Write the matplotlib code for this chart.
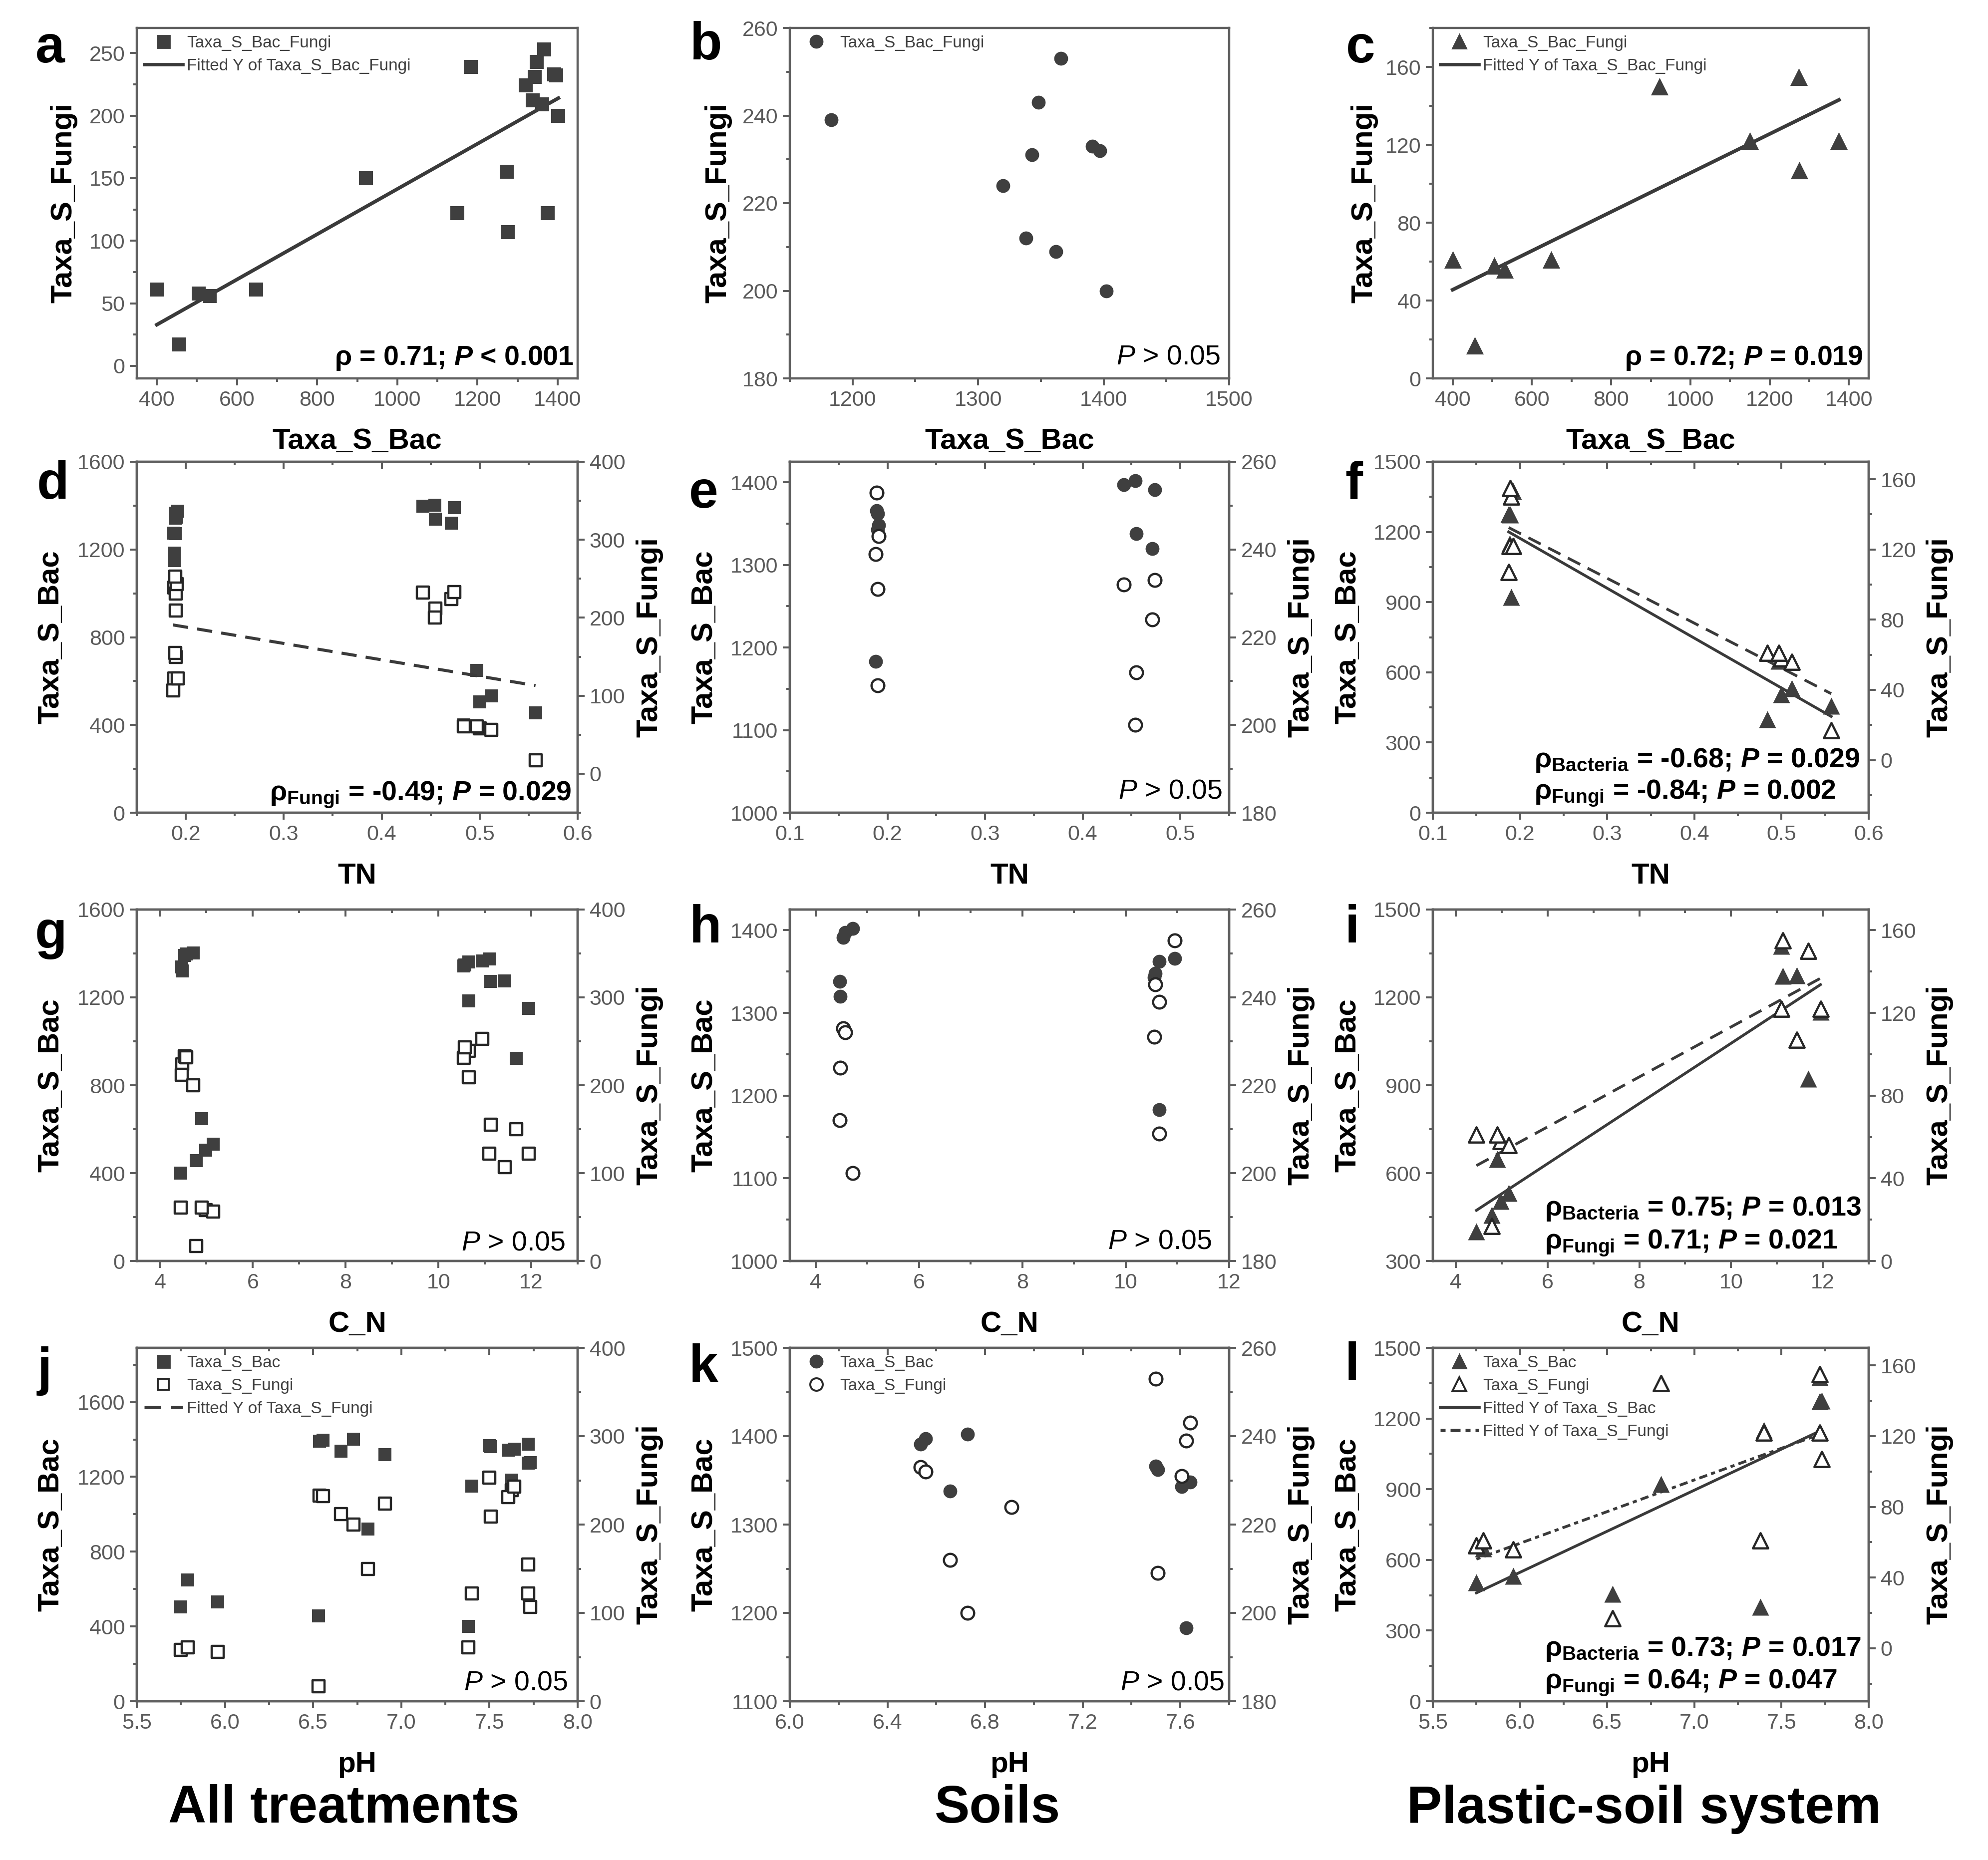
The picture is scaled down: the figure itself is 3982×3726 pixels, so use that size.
'''scatter panels: bacterial vs fungal richness against soil properties'''
import numpy as np
import matplotlib.pyplot as plt
from matplotlib.lines import Line2D
from matplotlib.ticker import MultipleLocator, FormatStrFormatter

plt.rcParams['font.family'] = ['Liberation Sans', 'DejaVu Sans']
plt.rcParams['mathtext.fontset'] = 'custom'
plt.rcParams['mathtext.rm'] = 'Liberation Sans'
plt.rcParams['mathtext.it'] = 'Liberation Sans:italic'
plt.rcParams['mathtext.bf'] = 'Liberation Sans:bold'
plt.rcParams['mathtext.bfit'] = 'Liberation Sans:italic:bold'

# soil samples
soil_bac = [1183, 1320, 1343, 1338, 1348, 1362, 1366, 1391, 1397, 1402]
soil_fungi = [239, 224, 231, 212, 243, 209, 253, 233, 232, 200]
soil_tn = [0.188, 0.471, 0.190, 0.455, 0.191, 0.190, 0.189, 0.474, 0.442, 0.454]
soil_cn = [10.65, 4.48, 10.55, 4.47, 10.57, 10.65, 10.95, 4.53, 4.57, 4.72]
soil_ph = [7.625, 6.908, 7.606, 6.657, 7.640, 7.508, 7.500, 6.536, 6.557, 6.728]

# plastic-soil samples
plastic_bac = [400, 456, 505, 532, 648, 922, 1150, 1273, 1275, 1375]
plastic_fungi = [61, 17, 58, 56, 61, 150, 122, 155, 107, 122]
plastic_tn = [0.484, 0.557, 0.500, 0.512, 0.497, 0.190, 0.188, 0.189, 0.187, 0.192]
plastic_cn = [4.45, 4.78, 4.98, 5.15, 4.90, 11.68, 11.95, 11.13, 11.43, 11.10]
plastic_ph = [7.38, 6.53, 5.75, 5.96, 5.79, 6.81, 7.40, 7.72, 7.73, 7.72]

# all treatments = both groups together
all_bac = soil_bac + plastic_bac
all_fungi = soil_fungi + plastic_fungi
all_tn = soil_tn + plastic_tn
all_cn = soil_cn + plastic_cn
all_ph = soil_ph + plastic_ph

W, H = 3982, 3726
DPI = 200
DARK = '#3f3f3f'
EDGE = '#262626'
LINE = '#3a3a3a'
TICK = '#5a5a5a'

fig = plt.figure(figsize=(W / DPI, H / DPI), dpi=DPI)

cols = [(274, 1157), (1582, 2462), (2870, 3743)]
rows = [(56, 758), (925, 1628), (1822, 2526), (2700, 3408)]


def make_ax(r, c):
    x0, x1 = cols[c]
    y0, y1 = rows[r]
    return fig.add_axes([x0 / W, 1 - y1 / H, (x1 - x0) / W, (y1 - y0) / H])


def style(ax, lim, major, which='x', fmt=None):
    axis = ax.xaxis if which == 'x' else ax.yaxis
    if which == 'x':
        ax.set_xlim(lim)
    else:
        ax.set_ylim(lim)
    axis.set_major_locator(MultipleLocator(major))
    axis.set_minor_locator(MultipleLocator(major / 2))
    if fmt:
        axis.set_major_formatter(FormatStrFormatter(fmt))
    ax.tick_params(which='both', direction='out', colors=TICK, labelsize=15.5, width=1.4)
    ax.tick_params(which='major', length=5)
    ax.tick_params(which='minor', length=2.5)
    for sp in ax.spines.values():
        sp.set_color('#606060')
        sp.set_linewidth(1.6)


def top_ticks(ax, major):
    sec = ax.secondary_xaxis('top')
    sec.xaxis.set_major_locator(MultipleLocator(major))
    sec.xaxis.set_minor_locator(MultipleLocator(major / 2))
    sec.tick_params(which='both', direction='in', labeltop=False, colors=TICK, width=1.4)
    sec.tick_params(which='major', length=5)
    sec.tick_params(which='minor', length=2.5)


def fit_line(ax, x, y, **kw):
    k, b = np.polyfit(x, y, 1)
    xs = np.array([min(x), max(x)])
    ax.plot(xs, k * xs + b, color=LINE, **kw)


def filled(ax, x, y, m, s):
    ax.scatter(x, y, marker=m, s=s, c=DARK, linewidths=0, zorder=3)


def hollow(ax, x, y, m, s):
    ax.scatter(x, y, marker=m, s=s, facecolors='white', edgecolors=EDGE, linewidths=1.6, zorder=4)


def note(ax, x, y, txt, ha='right', bold=True):
    ax.text(x, y, txt, transform=ax.transAxes, ha=ha, va='center', fontsize=20,
            fontweight='bold' if bold else 'normal', zorder=6)


def labels(ax, xl, yl, ylx):
    ax.set_xlabel(xl, fontsize=21, fontweight='bold', va='center')
    ax.xaxis.set_label_coords(0.5, -0.18)
    ax.set_ylabel(yl, fontsize=21.5, fontweight='bold', va='center')
    ax.yaxis.set_label_coords(ylx, 0.5)


def right_label(ax2):
    ax2.set_ylabel('Taxa_S_Fungi', fontsize=21.5, fontweight='bold', va='center')
    ax2.yaxis.set_label_coords(1.163, 0.5)


def legend(ax, handles, names):
    leg = ax.legend(handles, names, loc='upper left', frameon=False, fontsize=12,
                    handlelength=2.3, handletextpad=0.25, labelspacing=0.45,
                    borderaxespad=0.25, borderpad=0.2)
    for t in leg.get_texts():
        t.set_color('#404040')
    leg.set_zorder(10)


def mk(m, fill, ms):
    if fill:
        return Line2D([], [], marker=m, ls='none', color=DARK, ms=ms)
    return Line2D([], [], marker=m, ls='none', markerfacecolor='white',
                  markeredgecolor=EDGE, markeredgewidth=1.4, ms=ms)


def ln(ls):
    return Line2D([], [], color=LINE, lw=2.4, ls=ls)


RHO_A = 'ρ = 0.71; $\\mathbfit{P}$ < 0.001'
RHO_C = 'ρ = 0.72; $\\mathbfit{P}$ = 0.019'
NS = '$\\mathit{P}$ > 0.05'

# ---- row 1: fungi vs bacteria
ax = make_ax(0, 0)
filled(ax, all_bac, all_fungi, 's', 100)
fit_line(ax, all_bac, all_fungi, lw=2.6)
style(ax, (350, 1450), 200, 'x')
style(ax, (-10, 270), 50, 'y')
labels(ax, 'Taxa_S_Bac', 'Taxa_S_Fungi', -0.166)
legend(ax, [mk('s', True, 9), ln('-')], ['Taxa_S_Bac_Fungi', 'Fitted Y of Taxa_S_Bac_Fungi'])
note(ax, 0.991, 0.057, RHO_A)

ax = make_ax(0, 1)
filled(ax, soil_bac, soil_fungi, 'o', 100)
style(ax, (1150, 1500), 100, 'x')
style(ax, (180, 260), 20, 'y')
labels(ax, 'Taxa_S_Bac', 'Taxa_S_Fungi', -0.163)
legend(ax, [mk('o', True, 9)], ['Taxa_S_Bac_Fungi'])
note(ax, 0.98, 0.06, NS, bold=False)

ax = make_ax(0, 2)
filled(ax, plastic_bac, plastic_fungi, '^', 160)
fit_line(ax, plastic_bac, plastic_fungi, lw=2.6)
style(ax, (350, 1450), 200, 'x')
style(ax, (0, 180), 40, 'y')
labels(ax, 'Taxa_S_Bac', 'Taxa_S_Fungi', -0.157)
legend(ax, [mk('^', True, 10), ln('-')], ['Taxa_S_Bac_Fungi', 'Fitted Y of Taxa_S_Bac_Fungi'])
note(ax, 0.987, 0.057, RHO_C)

# ---- rows 2-4: both groups against TN, C_N, pH (left bacteria, right fungi)
panels = [
    # row, col, x, bac, fungi, marker, xlim, xstep, xfmt, ylim_bac, bac_step, ylim_fun, fun_step
    (1, 0, all_tn, all_bac, all_fungi, 's', (0.15, 0.6), 0.1, '%.1f', (0, 1600), 400, (-50, 400), 100),
    (1, 1, soil_tn, soil_bac, soil_fungi, 'o', (0.1, 0.55), 0.1, '%.1f', (1000, 1425), 100, (180, 260), 20),
    (1, 2, plastic_tn, plastic_bac, plastic_fungi, '^', (0.1, 0.6), 0.1, '%.1f', (0, 1500), 300, (-30, 170), 40),
    (2, 0, all_cn, all_bac, all_fungi, 's', (3.5, 13), 2, None, (0, 1600), 400, (0, 400), 100),
    (2, 1, soil_cn, soil_bac, soil_fungi, 'o', (3.5, 12), 2, None, (1000, 1425), 100, (180, 260), 20),
    (2, 2, plastic_cn, plastic_bac, plastic_fungi, '^', (3.5, 13), 2, None, (300, 1500), 300, (0, 170), 40),
    (3, 0, all_ph, all_bac, all_fungi, 's', (5.5, 8.0), 0.5, '%.1f', (0, 1890), 400, (0, 400), 100),
    (3, 1, soil_ph, soil_bac, soil_fungi, 'o', (6.0, 7.8), 0.4, '%.1f', (1100, 1500), 100, (180, 260), 20),
    (3, 2, plastic_ph, plastic_bac, plastic_fungi, '^', (5.5, 8.0), 0.5, '%.1f', (0, 1500), 300, (-30, 170), 40),
]
xnames = {1: 'TN', 2: 'C_N', 3: 'pH'}
sizes = {'s': (90, 70), 'o': (100, 85), '^': (150, 120)}
axes = {}

for r, c, x, bac, fun, m, xlim, xstep, xfmt, yl1, st1, yl2, st2 in panels:
    ax = make_ax(r, c)
    ax2 = ax.twinx()
    s_fill, s_open = sizes[m]
    filled(ax, x, bac, m, s_fill)
    hollow(ax2, x, fun, m, s_open)
    style(ax, xlim, xstep, 'x', xfmt)
    style(ax, yl1, st1, 'y')
    style(ax2, yl2, st2, 'y')
    top_ticks(ax, xstep)
    labels(ax, xnames[r], 'Taxa_S_Bac', -0.195)
    right_label(ax2)
    axes[(r, c)] = (ax, ax2, x, bac, fun)

# fitted lines
ax, ax2, x, bac, fun = axes[(1, 0)]
fit_line(ax2, x, fun, lw=2.2, ls=(0, (5, 3)))
note(ax2, 0.986, 0.051, 'ρ$_{\\mathbf{Fungi}}$ = -0.49; $\\mathbfit{P}$ = 0.029')

ax, ax2, x, bac, fun = axes[(1, 2)]
fit_line(ax, x, bac, lw=2.0)
fit_line(ax2, x, fun, lw=2.0, ls=(0, (5, 3)))
note(ax2, 0.233, 0.149, 'ρ$_{\\mathbf{Bacteria}}$ = -0.68; $\\mathbfit{P}$ = 0.029', ha='left')
note(ax2, 0.233, 0.055, 'ρ$_{\\mathbf{Fungi}}$ = -0.84; $\\mathbfit{P}$ = 0.002', ha='left')

ax, ax2, x, bac, fun = axes[(2, 2)]
fit_line(ax, x, bac, lw=2.0)
fit_line(ax2, x, fun, lw=2.0, ls=(0, (5, 3)))
note(ax2, 0.257, 0.148, 'ρ$_{\\mathbf{Bacteria}}$ = 0.75; $\\mathbfit{P}$ = 0.013', ha='left')
note(ax2, 0.257, 0.051, 'ρ$_{\\mathbf{Fungi}}$ = 0.71; $\\mathbfit{P}$ = 0.021', ha='left')

ax, ax2, x, bac, fun = axes[(3, 2)]
fit_line(ax, x, bac, lw=2.0)
fit_line(ax2, x, fun, lw=2.0, ls=(0, (1.5, 1.5, 3, 1.5)))
note(ax2, 0.257, 0.147, 'ρ$_{\\mathbf{Bacteria}}$ = 0.73; $\\mathbfit{P}$ = 0.017', ha='left')
note(ax2, 0.257, 0.052, 'ρ$_{\\mathbf{Fungi}}$ = 0.64; $\\mathbfit{P}$ = 0.047', ha='left')
legend(ax2, [mk('^', True, 10), mk('^', False, 10), ln('-'), ln((0, (1.5, 1.5, 3, 1.5)))],
       ['Taxa_S_Bac', 'Taxa_S_Fungi', 'Fitted Y of Taxa_S_Bac', 'Fitted Y of Taxa_S_Fungi'])

# legends on the pH panels
legend(axes[(3, 0)][1], [mk('s', True, 9), mk('s', False, 8), ln((0, (5, 3)))],
       ['Taxa_S_Bac', 'Taxa_S_Fungi', 'Fitted Y of Taxa_S_Fungi'])
legend(axes[(3, 1)][1], [mk('o', True, 9), mk('o', False, 9)], ['Taxa_S_Bac', 'Taxa_S_Fungi'])

# non-significant panels
note(axes[(1, 1)][1], 0.984, 0.06, NS, bold=False)
note(axes[(2, 0)][1], 0.972, 0.051, NS, bold=False)
note(axes[(2, 1)][1], 0.96, 0.055, NS, bold=False)
note(axes[(3, 0)][1], 0.977, 0.052, NS, bold=False)
note(axes[(3, 1)][1], 0.989, 0.052, NS, bold=False)

# panel letters
letters = [('a', 100, 98), ('b', 1413, 92), ('c', 2725, 98),
           ('d', 106, 972), ('e', 1409, 989), ('f', 2712, 972),
           ('g', 102, 1872), ('h', 1413, 1861), ('i', 2708, 1861),
           ('j', 89, 2747), ('k', 1409, 2740), ('l', 2708, 2736)]
for t, px, py in letters:
    fig.text(px / W, 1 - py / H, t, ha='center', va='center', fontsize=38, fontweight='bold')

# column titles
for t, px in [('All treatments', 689), ('Soils', 1998), ('Plastic-soil system', 3293)]:
    fig.text(px / W, 1 - 3624 / H, t, ha='center', va='center', fontsize=38, fontweight='bold')

fig.savefig('out.png', dpi=DPI)
